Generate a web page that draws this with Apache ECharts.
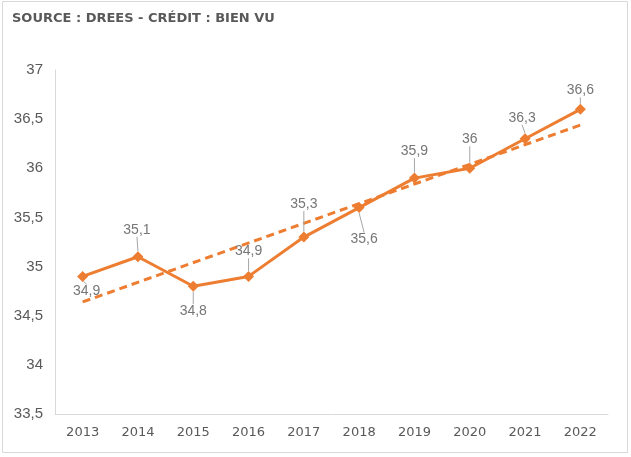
<!DOCTYPE html>
<html>
<head>
<meta charset="utf-8">
<script src="https://cdn.jsdelivr.net/npm/echarts@6/dist/echarts.min.js"></script>
<style>html,body{margin:0;padding:0;background:#fff}#c{width:631px;height:457px}</style>
</head>
<body>
<div id="c"></div>
<script>
const titleText = 'SOURCE : DREES - CRÉDIT : BIEN VU';
const years = ['2013','2014','2015','2016','2017','2018','2019','2020','2021','2022'];
const values = [34.9, 35.1, 34.8, 34.9, 35.3, 35.6, 35.9, 36, 36.3, 36.6];
// trendline endpoints
const trendYears = ['2013','2022'];
const trendValues = [34.64, 36.44];

// label offsets relative to the marker (style, not data)
const labelOffsets = [[4,15],[-1,-27],[0,25],[0,-25],[0,-33],[5,32],[0,-27],[0,-29],[-3,-21],[0,-19]];

const chart = echarts.init(document.getElementById('c'), null, {renderer:'canvas'});
chart.setOption({
  animation:false,
  backgroundColor:'#fff',
  graphic:[{type:'rect',shape:{x:2.5,y:1.5,width:625,height:451},style:{fill:'none',stroke:'#d9d9d9',lineWidth:1},silent:true}],
  title:{text:titleText,left:7,top:7,textStyle:{fontFamily:'DejaVu Sans',fontWeight:'bold',fontSize:13,color:'#595959'}},
  grid:{left:55,right:23,top:70,bottom:43},
  xAxis:{type:'category',data:years,boundaryGap:true,
    axisLine:{lineStyle:{color:'#d9d9d9',width:1}},axisTick:{show:false},
    axisLabel:{fontFamily:'DejaVu Sans',fontSize:13,color:'#595959',margin:12}},
  yAxis:{type:'value',min:33.5,max:37,interval:0.5,
    axisLine:{show:true,lineStyle:{color:'#d9d9d9',width:1}},axisTick:{show:false},splitLine:{show:false},
    axisLabel:{fontFamily:'Liberation Sans',fontSize:15,color:'#595959',margin:12,
      formatter:v=>String(v).replace('.',',')}},
  series:[
    {type:'line',data:trendYears.map((y,i)=>[y,trendValues[i]]),symbol:'none',
      lineStyle:{color:'#ED7D31',width:3,type:[8,5]},z:1,silent:true},
    {type:'line',data:values,symbol:'diamond',symbolSize:11,
      itemStyle:{color:'#ED7D31'},lineStyle:{color:'#ED7D31',width:3},z:2,
      label:{show:true,position:'top',fontFamily:'Liberation Sans',fontSize:14,color:'#767676',
        formatter:p=>String(p.value).replace('.',',')},
      labelLine:{show:true,lineStyle:{color:'#a6a6a6',width:1}},
      labelLayout:function(p){
        const o=labelOffsets[p.dataIndex];
        const cx=p.rect.x+p.rect.width/2, cy=p.rect.y+p.rect.height/2;
        return {x:cx+o[0]-p.labelRect.width/2, y:cy+o[1]-p.labelRect.height/2, align:'left', verticalAlign:'top'};
      }}
  ]
});
</script>
</body>
</html>
